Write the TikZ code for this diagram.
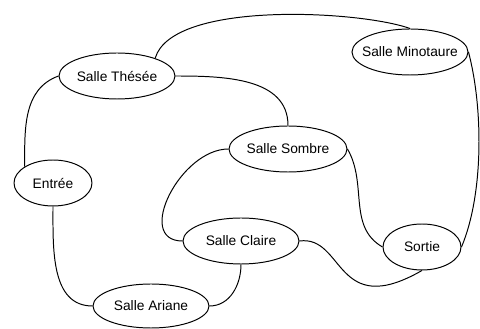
\documentclass[tikz,border=0pt]{standalone}
\usepackage{fontspec}
\setmainfont{Liberation Sans}
\usetikzlibrary{shapes.geometric}
\tikzset{>=latex,
	salle/.style={ellipse,draw,line width=0.7pt,inner xsep=-1cm,inner ysep=0pt,minimum width=2.9cm,minimum height=1.15cm,font=\fontsize{9.8}{12}\selectfont},
	petite/.style={salle,minimum width=1.95cm},
	passage/.style={line width=0.7pt}}

\begin{document}
\begin{tikzpicture}
		\useasboundingbox (0,0) rectangle (12,8.225);
		% Salles
		\node[salle] (these) at (2.925,6.325) {Salle Thésée};
		\node[salle] (mino) at (10.25,6.925) {Salle Minotaure};
		\node[salle,minimum width=2.95cm] (sombre) at (7.2,4.5) {Salle Sombre};
		\node[petite] (entree) at (1.325,3.65) {Entrée};
		\node[salle] (claire) at (6.025,2.2) {Salle Claire};
		\node[salle,minimum height=1.1cm] (ariane) at (3.775,0.575) {Salle Ariane};
		\node[petite] (sortie) at (10.55,2.05) {Sortie};
		% Passages
		\draw[passage] (these.25) .. controls +(0.425,1.45) and +(-1.25,0.45) .. (mino.north);
		\draw[passage] (these.east) to[out=0,in=90] (sombre.north);
		\draw[passage] (these.west) to[out=200,in=90] (entree.150);
		\draw[passage] (entree.south) to[out=270,in=180] (ariane.west);
		\draw[passage] (ariane.east) to[out=0,in=270] (claire.south);
		\draw[passage] (sombre.west) to[out=180,in=180,looseness=1.2] (claire.west);
		\draw[passage] (claire.east) .. controls +(1.125,0.15) and +(-2.175,-1.25) .. (sortie.south);
		\draw[passage] (sombre.east) to[out=-60,in=150] (sortie.west);
		\draw[passage] (mino.east) .. controls +(0.375,-1.425) and +(0.55,1.3) .. (sortie.east);
\end{tikzpicture}
\end{document}
